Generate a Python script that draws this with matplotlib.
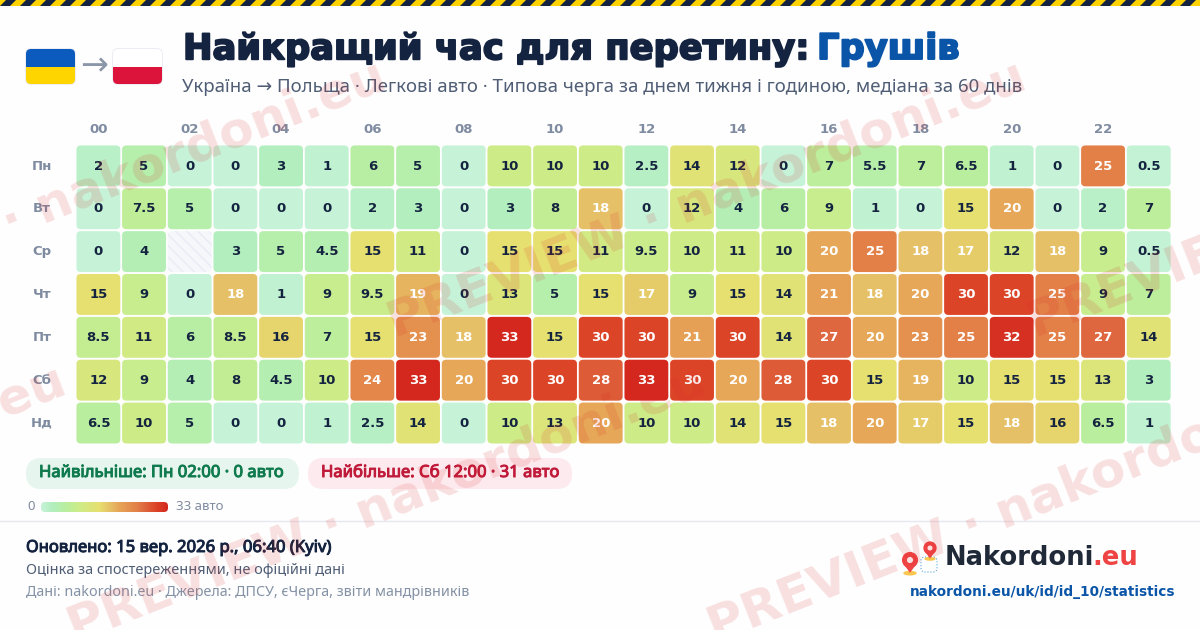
import numpy as np
import matplotlib
matplotlib.use("Agg")
import matplotlib.pyplot as plt
from matplotlib.colors import LinearSegmentedColormap
from matplotlib.patches import FancyBboxPatch, Rectangle, Polygon, Circle, Ellipse
import matplotlib.patheffects as pe

hours = ["00", "02", "04", "06", "08", "10", "12", "14", "16", "18", "20", "22"]
days = ["Пн", "Вт", "Ср", "Чт", "Пт", "Сб", "Нд"]
mon = [2, 5, 0, 0, 3, 1, 6, 5, 0, 10, 10, 10, 2.5, 14, 12, 0, 7, 5.5, 7, 6.5, 1, 0, 25, 0.5]
tue = [0, 7.5, 5, 0, 0, 0, 2, 3, 0, 3, 8, 18, 0, 12, 4, 6, 9, 1, 0, 15, 20, 0, 2, 7]
wed = [0, 4, None, 3, 5, 4.5, 15, 11, 0, 15, 15, 11, 9.5, 10, 11, 10, 20, 25, 18, 17, 12, 18, 9, 0.5]
thu = [15, 9, 0, 18, 1, 9, 9.5, 19, 0, 13, 5, 15, 17, 9, 15, 14, 21, 18, 20, 30, 30, 25, 9, 7]
fri = [8.5, 11, 6, 8.5, 16, 7, 15, 23, 18, 33, 15, 30, 30, 21, 30, 14, 27, 20, 23, 25, 32, 25, 27, 14]
sat = [12, 9, 4, 8, 4.5, 10, 24, 33, 20, 30, 30, 28, 33, 30, 20, 28, 30, 15, 19, 10, 15, 15, 13, 3]
sun = [6.5, 10, 5, 0, 0, 1, 2.5, 14, 0, 10, 13, 20, 10, 10, 14, 15, 18, 20, 17, 15, 18, 16, 6.5, 1]
rows = [mon, tue, wed, thu, fri, sat, sun]
vmax = 33

plt.rcParams['font.family'] = ['Noto Sans', 'DejaVu Sans']

cmap = LinearSegmentedColormap.from_list("queue", [
    (0 / vmax, "#c6f3d8"), (3 / vmax, "#b2eebe"), (6.5 / vmax, "#b9ee9e"), (10 / vmax, "#cdec88"),
    (15 / vmax, "#e6e070"), (18 / vmax, "#e6c066"), (20 / vmax, "#e6a858"), (25 / vmax, "#e28048"),
    (27 / vmax, "#de6840"), (30 / vmax, "#dc4428"), (1.0, "#d4281f")])

fig = plt.figure(figsize=(12, 6.3), dpi=100, facecolor="#fefefe")

# page furniture in pixel coordinates
page = fig.add_axes([0, 0, 1, 1])
page.set_xlim(0, 1200)
page.set_ylim(630, 0)
page.axis("off")

page.add_patch(Rectangle((0, 0), 1200, 6, fc="#ffd200", ec="none"))
for x in range(-20, 1220, 20):
    page.add_patch(Polygon([(x, 6), (x + 10, 6), (x + 16, 0), (x + 6, 0)], fc="#14233f", ec="none"))


def flag(x, top, bottom):
    page.add_patch(FancyBboxPatch((x, 49), 49, 35, boxstyle="round,pad=0,rounding_size=5",
                                  fc="white", ec="#e3e6ee", lw=1))
    clip = FancyBboxPatch((x, 49), 49, 35, boxstyle="round,pad=0,rounding_size=5",
                          fc="none", ec="none", transform=page.transData)
    page.add_patch(clip)
    a = page.add_patch(Rectangle((x, 49), 49, 17.5, fc=top, ec="none"))
    b = page.add_patch(Rectangle((x, 66.5), 49, 17.5, fc=bottom, ec="none"))
    a.set_clip_path(clip)
    b.set_clip_path(clip)


def heavy(color, width=0.5):
    # Noto Sans here has no bold face, so thicken it with a stroke
    return [pe.withStroke(linewidth=width, foreground=color)]


flag(26, "#0a5bbd", "#ffd500")
flag(113, "#ffffff", "#dc143c")
page.text(94, 66, "→", fontsize=24, color="#8b96a8", ha="center", va="center", family="DejaVu Sans")

page.text(183, 49, "Найкращий час для перетину:", fontsize=25.4, fontweight="bold",
          family="DejaVu Sans", color="#14233f", ha="left", va="center", path_effects=heavy("#14233f", 1.4))
page.text(817, 49, "Грушів", fontsize=25.4, fontweight="bold", family="DejaVu Sans", color="#0a55a8",
          ha="left", va="center", path_effects=heavy("#0a55a8", 1.4))
page.text(182, 87, "Україна → Польща · Легкові авто · Типова черга за днем тижня і годиною, медіана за 60 днів",
          fontsize=13.4, color="#4f5d75", ha="left", va="center")

# heatmap
ax = fig.add_axes([76 / 1200, 1 - 445 / 630, 1096 / 1200, 300 / 630])
ax.set_xlim(0, 24)
ax.set_ylim(7, 0)
ax.axis("off")
for r, row in enumerate(rows):
    for c, v in enumerate(row):
        box = dict(boxstyle="round,pad=0,rounding_size=0.1", mutation_aspect=0.94)
        if v is None:
            ax.add_patch(FancyBboxPatch((c + 0.01, r + 0.01), 0.96, 0.955, fc="#f6f7fb", ec="#e9ebf5",
                                        hatch="\\\\\\", lw=0, **box))
            continue
        ax.add_patch(FancyBboxPatch((c + 0.01, r + 0.01), 0.96, 0.955, fc=cmap(v / vmax), ec="none", **box))
        ax.text(c + 0.49, r + 0.49, f"{v:g}", ha="center", va="center", fontsize=9.5, fontweight="bold",
                family="DejaVu Sans", color="white" if v >= 17 else "#14233f")
for i, h in enumerate(hours):
    ax.text(i * 2 + 0.49, -0.37, h, ha="center", va="center", fontsize=9.5, fontweight="bold",
            family="DejaVu Sans", color="#7f8ba0", clip_on=False)
for r, d in enumerate(days):
    ax.text(-0.75, r + 0.49, d, ha="center", va="center", fontsize=9.5, fontweight="bold",
            family="DejaVu Sans", color="#7f8ba0", clip_on=False)

# pills
page.add_patch(FancyBboxPatch((26, 458), 273, 31, boxstyle="round,pad=0,rounding_size=15.5",
                              fc="#e6f6ee", ec="none"))
page.text(39, 473, "Найвільніше: Пн 02:00 · 0 авто", fontsize=12, color="#0f7a4d",
          ha="left", va="center", path_effects=heavy("#0f7a4d", 0.7))
page.add_patch(FancyBboxPatch((308, 458), 264, 31, boxstyle="round,pad=0,rounding_size=15.5",
                              fc="#fdeaee", ec="none"))
page.text(321, 473, "Найбільше: Сб 12:00 · 31 авто", fontsize=12, color="#c01a3a",
          ha="left", va="center", path_effects=heavy("#c01a3a", 0.7))

# colour legend
page.text(27, 507, "0", fontsize=9.5, color="#7f8ba0", ha="left", va="center")
page.text(176, 507, "33 авто", fontsize=9.5, color="#7f8ba0", ha="left", va="center")
bar = page.imshow(np.linspace(0, 1, 256)[None, :], cmap=cmap, extent=(41, 168, 512, 502), aspect="auto")
bar_clip = FancyBboxPatch((41, 502), 127, 10, boxstyle="round,pad=0,rounding_size=4", fc="none", ec="none",
                          transform=page.transData)
page.add_patch(bar_clip)
bar.set_clip_path(bar_clip)
page.set_xlim(0, 1200)
page.set_ylim(630, 0)

# footer
page.plot([0, 1200], [521, 521], color="#e6e8f0", lw=1)
page.text(26, 548, "Оновлено: 15 вер. 2026 р., 06:40 (Kyiv)", fontsize=12, color="#14233f",
          ha="left", va="center", path_effects=heavy("#14233f", 0.7))
page.text(26, 570, "Оцінка за спостереженнями, не офіційні дані", fontsize=10.4, color="#4f5d75",
          ha="left", va="center")
page.text(26, 592, "Дані: nakordoni.eu · Джерела: ДПСУ, єЧерга, звіти мандрівників", fontsize=10.3,
          color="#8492a6", ha="left", va="center")


def pin(x, y, s):
    page.add_patch(Ellipse((x, y + s * 1.55), s * 1.6, s * 0.55, fc="#f9c74f", ec="none"))
    page.add_patch(Polygon([(x - s * 0.85, y + s * 0.35), (x + s * 0.85, y + s * 0.35), (x, y + s * 1.5)],
                           fc="#ef4444", ec="none"))
    page.add_patch(Circle((x, y), s * 0.95, fc="#ef4444", ec="none"))
    page.add_patch(Circle((x, y), s * 0.36, fc="white", ec="none"))


page.add_patch(FancyBboxPatch((921, 557), 16, 15, boxstyle="round,pad=0,rounding_size=4", fc="none",
                              ec="#5aa7d8", lw=0.8, ls=":"))
pin(910, 560, 8.5)
pin(930, 548, 7)
page.text(945, 558, "Nakordoni", fontsize=18.6, fontweight="bold", family="DejaVu Sans", color="#1f2937",
          ha="left", va="center")
page.text(1092, 558, ".eu", fontsize=18.6, fontweight="bold", family="DejaVu Sans", color="#ef4444",
          ha="left", va="center")
page.text(1175, 592, "nakordoni.eu/uk/id/id_10/statistics", fontsize=9.85, fontweight="bold",
          family="DejaVu Sans", color="#0a55a8", ha="right", va="center")

# watermark on top of everything
marks = [(70, 630), (710, 630), (-570, 630), (390, 325), (-250, 325), (1030, 325)]
over = fig.add_axes([0, 0, 1, 1], facecolor="none")
over.set_xlim(0, 1200)
over.set_ylim(630, 0)
over.axis("off")
for x, y in marks:
    over.text(x, y, "PREVIEW · nakordoni.eu", fontsize=36, fontweight="bold", family="DejaVu Sans",
              color="#dc2626", alpha=0.14, rotation=21.5, rotation_mode="anchor", ha="left", va="center",
              clip_on=True)

fig.savefig("out.png", dpi=100)
